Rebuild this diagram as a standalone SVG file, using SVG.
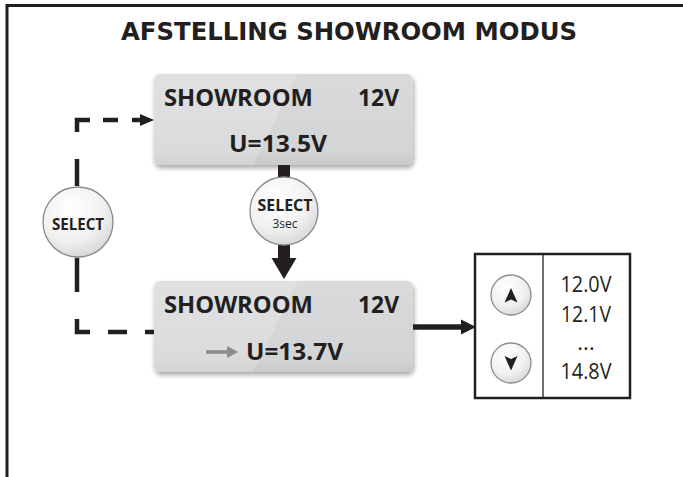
<svg xmlns="http://www.w3.org/2000/svg" width="683" height="477" viewBox="0 0 683 477">
<defs>
<style>
.frame{stroke:#1e1e1e;stroke-width:3;fill:none}
.box{fill:url(#boxg);filter:url(#shadow)}
.lt{fill:#ffffff;opacity:0.18}
.bt{font-family:"Open Sans","Noto Sans",sans-serif;font-weight:700;font-size:24px;fill:#231f20}
.title{font-family:"DejaVu Sans",sans-serif;font-weight:700;font-size:24px;fill:#231f20}
.btn{fill:url(#btng);stroke:#8a8a8a;stroke-width:1.3}
.sel{font-family:"Open Sans","Noto Sans",sans-serif;font-weight:700;font-size:16px;fill:#231f20}
.sec{font-family:"Open Sans","Noto Sans",sans-serif;font-weight:400;font-size:12px;fill:#231f20}
.val{font-family:"Open Sans","Noto Sans",sans-serif;font-weight:400;font-size:22px;fill:#231f20}
.dash{stroke:#231f20;stroke-width:4.5;fill:none}
.solid{fill:#231f20}
</style>
<linearGradient id="boxg" x1="0" y1="0" x2="0" y2="1">
<stop offset="0" stop-color="#d9dadc"/>
<stop offset="0.85" stop-color="#d3d4d6"/>
<stop offset="1" stop-color="#c8c9cb"/>
</linearGradient>
<radialGradient id="btng" cx="0.4" cy="0.3" r="0.8">
<stop offset="0" stop-color="#ffffff"/>
<stop offset="0.6" stop-color="#f0f0f0"/>
<stop offset="1" stop-color="#cfcfcf"/>
</radialGradient>
<filter id="shadow" x="-10%" y="-10%" width="120%" height="130%">
<feGaussianBlur in="SourceAlpha" stdDeviation="2.5"/>
<feOffset dx="1" dy="3" result="b"/>
<feComponentTransfer><feFuncA type="linear" slope="0.35"/></feComponentTransfer>
<feMerge><feMergeNode/><feMergeNode in="SourceGraphic"/></feMerge>
</filter>
</defs>
<rect width="683" height="477" fill="#ffffff"/>
<g id="frame">
<path class="frame" d="M7,477 V5.5 H683"/>
</g>
<g id="title">
<text class="title" x="349" y="40" text-anchor="middle" textLength="456" lengthAdjust="spacingAndGlyphs">AFSTELLING SHOWROOM MODUS</text>
</g>
<g id="display1">
<rect class="box" x="154" y="74" width="259" height="91" rx="6"/>
<path class="lt" d="M160,74 H298 L253,165 H160 Q154,165 154,159 V80 Q154,74 160,74 Z"/>
<text class="bt" x="164" y="106" textLength="149" lengthAdjust="spacingAndGlyphs">SHOWROOM</text>
<text class="bt" x="358" y="106" textLength="41" lengthAdjust="spacingAndGlyphs">12V</text>
<text class="bt" x="229" y="152" textLength="98" lengthAdjust="spacingAndGlyphs">U=13.5V</text>
</g>
<g id="display2">
<rect class="box" x="154" y="281" width="259" height="91" rx="6"/>
<path class="lt" d="M160,281 H298 L253,372 H160 Q154,372 154,366 V287 Q154,281 160,281 Z"/>
<text class="bt" x="164" y="313" textLength="149" lengthAdjust="spacingAndGlyphs">SHOWROOM</text>
<text class="bt" x="358" y="313" textLength="41" lengthAdjust="spacingAndGlyphs">12V</text>
<path d="M206,352 H229" stroke="#8c8c8c" stroke-width="3.5" fill="none"/>
<polygon points="227,346 238,352 227,358" fill="#8c8c8c"/>
<text class="bt" x="246" y="360" textLength="97" lengthAdjust="spacingAndGlyphs">U=13.7V</text>
</g>
<g id="connectors">
<path class="dash" d="M77,132 V120 H90"/>
<path class="dash" d="M103,120 H118"/>
<path class="dash" d="M132,120 H142"/>
<polygon class="solid" points="140,114 154,120 140,126"/>
<path class="dash" d="M77,159 V186"/>
<path class="dash" d="M77,258 V292"/>
<path class="dash" d="M77,319 V332 H90"/>
<path class="dash" d="M108,332 H127"/>
<path class="dash" d="M145,332 H154"/>
<rect class="solid" x="278" y="165" width="12" height="13"/>
<rect class="solid" x="278" y="244" width="12" height="15"/>
<polygon class="solid" points="271.5,258 296.5,258 284,279"/>
<path d="M413,327 H464" stroke="#231f20" stroke-width="5.5" fill="none"/>
<polygon class="solid" points="461,319.5 476,327 461,334.5"/>
</g>
<g id="select-left">
<circle class="btn" cx="78" cy="222" r="35"/>
<text class="sel" x="78" y="230" text-anchor="middle" textLength="52" lengthAdjust="spacingAndGlyphs">SELECT</text>
</g>
<g id="select-3sec">
<circle class="btn" cx="284" cy="211" r="34"/>
<text class="sel" x="285" y="211" text-anchor="middle" textLength="55" lengthAdjust="spacingAndGlyphs">SELECT</text>
<text class="sec" x="285" y="228" text-anchor="middle">3sec</text>
</g>
<g id="value-panel">
<rect x="475" y="254" width="155" height="144" fill="#ffffff" stroke="#231f20" stroke-width="2.5"/>
<path d="M543,254 V398" stroke="#231f20" stroke-width="1.3"/>
<circle class="btn" cx="511" cy="295" r="20"/>
<path class="solid" d="M511,288 L517.5,302.5 L511,299.5 L504.5,302.5 Z"/>
<circle class="btn" cx="511" cy="363" r="20"/>
<path class="solid" d="M511,370.5 L517.5,356 L511,359 L504.5,356 Z"/>
<text class="val" x="586" y="292" text-anchor="middle" textLength="51" lengthAdjust="spacingAndGlyphs">12.0V</text>
<text class="val" x="586" y="322" text-anchor="middle" textLength="50" lengthAdjust="spacingAndGlyphs">12.1V</text>
<text class="val" x="586" y="350" text-anchor="middle">...</text>
<text class="val" x="586" y="379" text-anchor="middle" textLength="51" lengthAdjust="spacingAndGlyphs">14.8V</text>
</g>
</svg>
